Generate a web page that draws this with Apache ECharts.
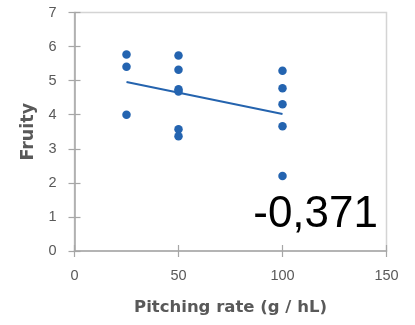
<!DOCTYPE html>
<html>
<head>
<meta charset="utf-8">
<script src="https://cdn.jsdelivr.net/npm/echarts@6/dist/echarts.min.js"></script>
<style>html,body{margin:0;padding:0;background:#fff;}#c{width:415px;height:325px;}</style>
</head>
<body>
<div id="c"></div>
<script>
// Data
var pitchingRate = [25, 25, 25, 50, 50, 50, 50, 50, 50, 100, 100, 100, 100, 100];
var fruity = [5.77, 5.41, 4.00, 5.74, 5.32, 4.75, 4.68, 3.57, 3.37, 5.29, 4.78, 4.31, 3.66, 2.20];
var trendX = [25, 100];
var trendY = [4.96, 4.02];
var xTicks = [0, 50, 100, 150];
var yTicks = [0, 1, 2, 3, 4, 5, 6, 7];
var rLabel = "-0,371";
var xTitle = "Pitching rate (g / hL)";
var yTitle = "Fruity";

var pts = pitchingRate.map(function (x, i) { return [x, fruity[i]]; });
var trend = trendX.map(function (x, i) { return [x, trendY[i]]; });

var axisCol = '#a6a6a6';
var labCol = '#595959';
var chart = echarts.init(document.getElementById('c'), null, { renderer: 'canvas' });

function xAx(main) {
  return {
    type: 'value', position: 'bottom',
    min: xTicks[0], max: xTicks[xTicks.length - 1], interval: xTicks[1] - xTicks[0],
    name: main ? xTitle : '', nameLocation: 'middle', nameGap: 48,
    nameTextStyle: { fontFamily: 'DejaVu Sans', fontWeight: 'bold', fontSize: 16.5, color: labCol },
    axisLine: { show: main, lineStyle: { color: axisCol, width: 1.5 } },
    axisTick: { show: true, inside: !main, length: 6, lineStyle: { color: axisCol, width: 1.2 } },
    axisLabel: { show: main, margin: 17, fontFamily: 'Liberation Sans', fontSize: 14.5, color: labCol },
    splitLine: { show: false }
  };
}
function yAx(main) {
  return {
    type: 'value', position: 'left',
    min: yTicks[0], max: yTicks[yTicks.length - 1], interval: yTicks[1] - yTicks[0],
    name: main ? yTitle : '', nameLocation: 'middle', nameGap: 35,
    nameTextStyle: { fontFamily: 'DejaVu Sans', fontWeight: 'bold', fontSize: 17.5, color: labCol },
    axisLine: { show: main, lineStyle: { color: axisCol, width: 1.5 } },
    axisTick: { show: true, inside: !main, length: 6, lineStyle: { color: axisCol, width: 1.2 } },
    axisLabel: { show: main, margin: 18, fontFamily: 'Liberation Sans', fontSize: 14.5, color: labCol },
    splitLine: { show: false }
  };
}

chart.setOption({
  animation: false,
  backgroundColor: '#fff',
  grid: { left: 74.5, right: 28.5, top: 12.5, bottom: 74, show: true, borderColor: '#d4d4d4', borderWidth: 1.5, backgroundColor: 'transparent' },
  xAxis: [xAx(true), xAx(false)],
  yAxis: [yAx(true), yAx(false)],
  series: [
    {
      type: 'line', data: trend, xAxisIndex: 0, yAxisIndex: 0,
      showSymbol: false, symbol: 'none',
      lineStyle: { color: '#2463ae', width: 2 }, z: 2
    },
    {
      type: 'scatter', data: pts, xAxisIndex: 0, yAxisIndex: 0,
      symbolSize: 8.5, itemStyle: { color: '#2464b0', opacity: 1 }, z: 3
    }
  ],
  graphic: [
    {
      type: 'text', right: 37, top: 193,
      style: { text: rLabel, font: '44px "Liberation Sans"', fill: '#000' }
    }
  ]
});
</script>
</body>
</html>
